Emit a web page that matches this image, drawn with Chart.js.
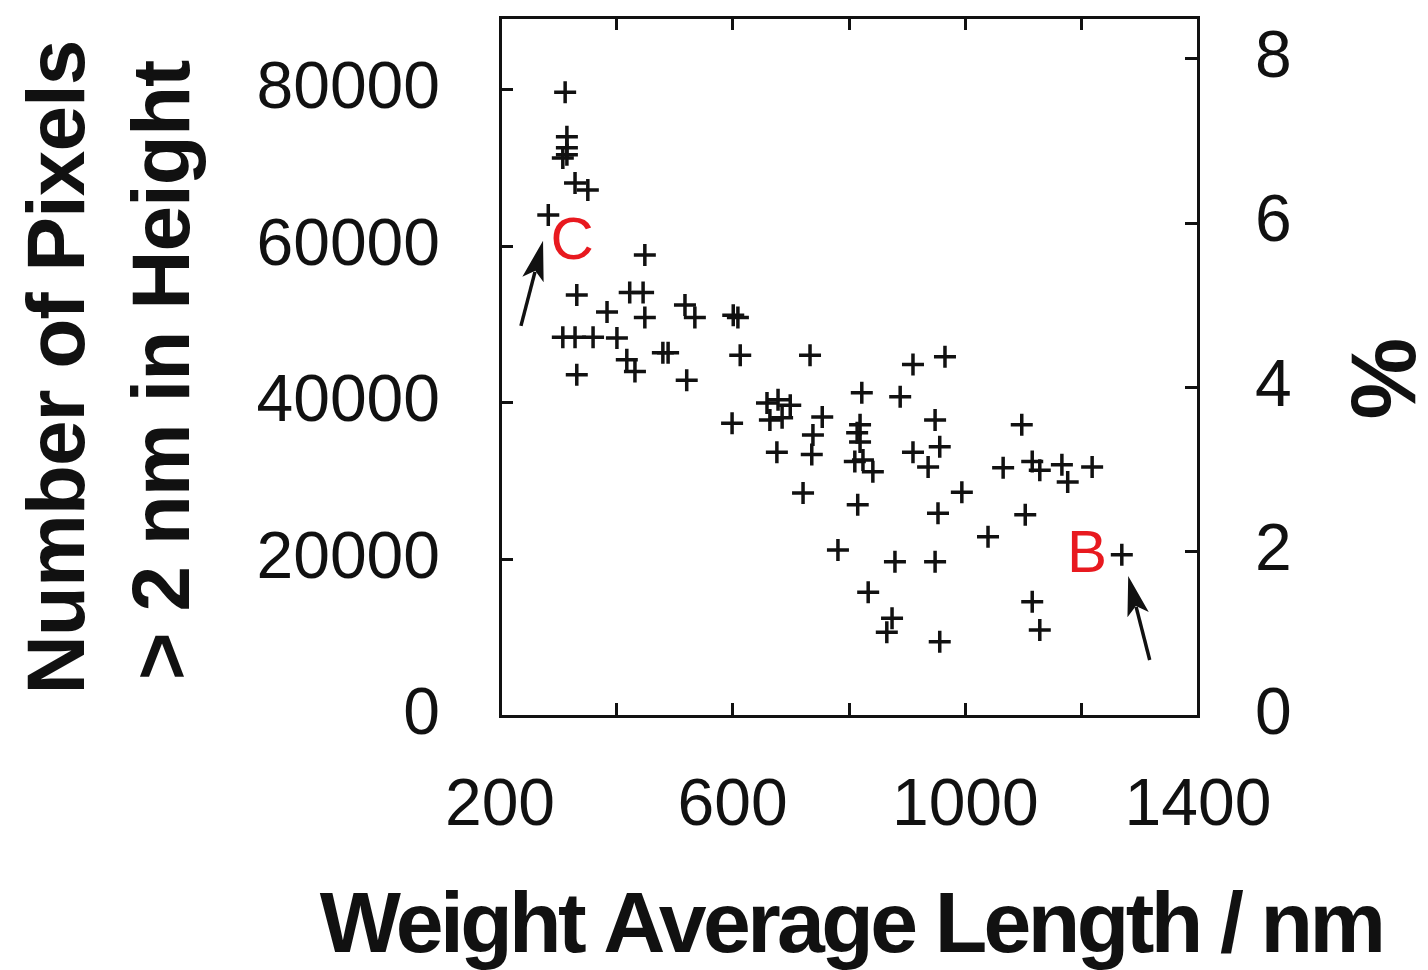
<!DOCTYPE html>
<html>
<head>
<meta charset="utf-8">
<script src="https://cdn.jsdelivr.net/npm/chart.js@4/dist/chart.umd.min.js"></script>
<style>
  html, body { margin: 0; padding: 0; background: #ffffff; }
  #wrap { width: 1428px; height: 970px; }
</style>
</head>
<body>
<div id="wrap"><canvas id="c" width="1428" height="970"></canvas></div>
<script>
// ---- Data ----
const lengthNm = [
  312, 315, 315, 315, 308, 329, 351, 283, 449, 332,
  384, 423, 446, 449, 518, 535, 601, 609, 613, 308,
  329, 360, 401, 418, 432, 480, 489, 521, 332, 733,
  599, 659, 678, 699, 664, 685, 676, 754, 738, 736,
  822, 819, 814, 819, 810, 824, 841, 888, 910, 965,
  948, 910, 956, 936, 721, 815, 953, 994, 1039, 781,
  879, 948, 833, 874, 865, 956, 1097, 1065, 1115, 1128,
  1166, 1176, 1218, 1103, 1269, 1115, 1128
];
const pixelCount = [
  79700, 74000, 72600, 71700, 71300, 68100, 67200, 64000, 58900, 53800,
  51600, 54100, 54100, 50900, 52500, 50900, 51200, 50900, 46100, 48400,
  48400, 48400, 48300, 45500, 44000, 46400, 46400, 42900, 43600, 46100,
  37400, 40000, 40400, 39700, 37800, 38100, 33700, 38200, 35900, 33400,
  41300, 37200, 36200, 35000, 32500, 32700, 31200, 40800, 44900, 45900,
  37800, 33700, 34400, 31800, 28500, 27000, 25900, 28600, 22900, 21200,
  19700, 19700, 15800, 12500, 10700, 9500, 37200, 31700, 32500, 31400,
  32100, 29900, 31800, 25700, 20600, 14600, 11000
];

// Tick values and labels
const xTickValues = [200, 400, 600, 800, 1000, 1200, 1400];
const xTickLabels = [200, 600, 1000, 1400];
const yTickLabels = [0, 20000, 40000, 60000, 80000];
const y2TickLabels = [0, 2, 4, 6, 8];

// Axis titles
const xTitle = 'Weight Average Length / nm';
const yTitleLines = ['Number of Pixels', '> 2 nm in Height'];
const y2Title = '%';

// Annotations (in data units)
const noteTexts = ['C', 'B'];
const noteX = [324, 1209];
const noteY = [60450, 20450];
const arrowTailX = [236, 1317];
const arrowTailY = [49840, 7160];
const arrowHeadX = [274, 1280];
const arrowHeadY = [60700, 17900];

const FONT = "'Liberation Sans', Arial, Helvetica, sans-serif";
const BLACK = '#111111';

const points = lengthNm.map((x, i) => ({ x: x, y: pixelCount[i] }));

const bgPlugin = {
  id: 'bg',
  beforeDraw(chart) {
    const ctx = chart.ctx;
    ctx.save();
    ctx.fillStyle = '#ffffff';
    ctx.fillRect(0, 0, chart.width, chart.height);
    ctx.restore();
  }
};

const notesPlugin = {
  id: 'notes',
  afterDatasetsDraw(chart) {
    const ctx = chart.ctx;
    const xs = chart.scales.x, ys = chart.scales.y;
    ctx.save();
    for (let i = 0; i < arrowTailX.length; i++) {
      const x1 = xs.getPixelForValue(arrowTailX[i]);
      const y1 = ys.getPixelForValue(arrowTailY[i]);
      const x2 = xs.getPixelForValue(arrowHeadX[i]);
      const y2 = ys.getPixelForValue(arrowHeadY[i]);
      const ang = Math.atan2(y2 - y1, x2 - x1);
      const headLen = 40, headHalf = 11;
      const bx = x2 - Math.cos(ang) * headLen;
      const by = y2 - Math.sin(ang) * headLen;
      ctx.strokeStyle = BLACK;
      ctx.lineWidth = 3.5;
      ctx.beginPath();
      ctx.moveTo(x1, y1);
      ctx.lineTo(bx + Math.cos(ang) * 8, by + Math.sin(ang) * 8);
      ctx.stroke();
      ctx.fillStyle = BLACK;
      ctx.beginPath();
      ctx.moveTo(x2, y2);
      ctx.lineTo(bx + Math.cos(ang + Math.PI / 2) * headHalf, by + Math.sin(ang + Math.PI / 2) * headHalf);
      ctx.lineTo(bx + Math.cos(ang) * 9, by + Math.sin(ang) * 9);
      ctx.lineTo(bx - Math.cos(ang + Math.PI / 2) * headHalf, by - Math.sin(ang + Math.PI / 2) * headHalf);
      ctx.closePath();
      ctx.fill();
    }
    ctx.fillStyle = '#e8191f';
    ctx.font = '60px ' + FONT;
    ctx.textAlign = 'center';
    ctx.textBaseline = 'middle';
    for (let i = 0; i < noteTexts.length; i++) {
      ctx.fillText(noteTexts[i], xs.getPixelForValue(noteX[i]), ys.getPixelForValue(noteY[i]));
    }
    ctx.restore();
  }
};

// Axis titles drawn with tight tracking like the reference
const titlesPlugin = {
  id: 'titles',
  afterDraw(chart) {
    const ctx = chart.ctx;
    const a = chart.chartArea;
    const cx = (a.left + a.right) / 2;
    const cy = (a.top + a.bottom) / 2;
    ctx.save();
    ctx.fillStyle = BLACK;
    ctx.textAlign = 'center';
    // bottom title
    ctx.font = 'bold 86px ' + FONT;
    ctx.textBaseline = 'alphabetic';
    if ('letterSpacing' in ctx) {
      ctx.letterSpacing = '-3.6px';
      ctx.fillText(xTitle, cx + 2, a.bottom + 236);
    } else {
      ctx.fillText(xTitle, cx + 2, a.bottom + 236, 1070);
    }
    // left title (two lines, rotated)
    ctx.font = 'bold 82px ' + FONT;
    if ('letterSpacing' in ctx) ctx.letterSpacing = '-1px';
    const baseX = [a.left - 416, a.left - 311];
    for (let i = 0; i < yTitleLines.length; i++) {
      ctx.save();
      ctx.translate(baseX[i], cy + 1 + i * 3);
      ctx.rotate(-Math.PI / 2);
      ctx.fillText(yTitleLines[i], 0, 0);
      ctx.restore();
    }
    // right title
    if ('letterSpacing' in ctx) ctx.letterSpacing = '0px';
    ctx.font = 'bold 92px ' + FONT;
    ctx.textBaseline = 'middle';
    ctx.save();
    ctx.translate(a.right + 192, cy + 12);
    ctx.rotate(-Math.PI / 2);
    ctx.fillText(y2Title, 0, 0);
    ctx.restore();
    ctx.restore();
  }
};

const gridCommon = {
  drawOnChartArea: false,
  drawTicks: true,
  tickLength: -13,
  color: BLACK,
  lineWidth: 3
};
const borderCommon = { display: true, color: BLACK, width: 3 };

new Chart(document.getElementById('c'), {
  type: 'scatter',
  data: {
    datasets: [{
      label: 'Number of Pixels',
      data: points,
      xAxisID: 'x',
      yAxisID: 'y',
      pointStyle: 'cross',
      pointRadius: 11,
      pointHoverRadius: 11,
      pointBorderWidth: 3.5,
      borderColor: BLACK,
      backgroundColor: BLACK,
      showLine: false
    }]
  },
  options: {
    responsive: false,
    animation: false,
    devicePixelRatio: 1,
    layout: { padding: 0 },
    plugins: {
      legend: { display: false },
      tooltip: { enabled: false }
    },
    scales: {
      x: {
        type: 'linear',
        position: 'bottom',
        min: 200, max: 1400,
        grid: gridCommon,
        border: borderCommon,
        afterBuildTicks(scale) { scale.ticks = xTickValues.map(v => ({ value: v })); },
        ticks: {
          autoSkip: false,
          maxRotation: 0, minRotation: 0,
          padding: 64,
          color: BLACK,
          font: { family: FONT, size: 66 },
          callback: (v) => xTickLabels.includes(v) ? String(v) : ''
        },
        title: { display: false },
        afterFit(scale) { scale.height = 254; scale.paddingLeft = 0; scale.paddingRight = 0; }
      },
      x2: {
        type: 'linear',
        position: 'top',
        min: 200, max: 1400,
        grid: gridCommon,
        border: borderCommon,
        afterBuildTicks(scale) { scale.ticks = xTickValues.map(v => ({ value: v })); },
        ticks: { autoSkip: false, display: false },
        afterFit(scale) { scale.height = 17; scale.paddingLeft = 0; scale.paddingRight = 0; }
      },
      y: {
        type: 'linear',
        position: 'left',
        min: 0, max: 89300,
        grid: gridCommon,
        border: borderCommon,
        afterBuildTicks(scale) { scale.ticks = yTickLabels.map(v => ({ value: v })); },
        ticks: {
          autoSkip: false,
          padding: 73,
          color: BLACK,
          font: { family: FONT, size: 66 },
          callback: (v) => String(v)
        },
        title: { display: false },
        afterFit(scale) { scale.width = 500; scale.paddingTop = 0; scale.paddingBottom = 0; }
      },
      y2: {
        type: 'linear',
        position: 'right',
        min: 0, max: 8.51,
        grid: gridCommon,
        border: borderCommon,
        afterBuildTicks(scale) { scale.ticks = y2TickLabels.map(v => ({ value: v })); },
        ticks: {
          autoSkip: false,
          padding: 70,
          color: BLACK,
          font: { family: FONT, size: 66 },
          callback: (v) => String(v)
        },
        title: { display: false },
        afterFit(scale) { scale.width = 230; scale.paddingTop = 0; scale.paddingBottom = 0; }
      }
    }
  },
  plugins: [bgPlugin, notesPlugin, titlesPlugin]
});
</script>
</body>
</html>
